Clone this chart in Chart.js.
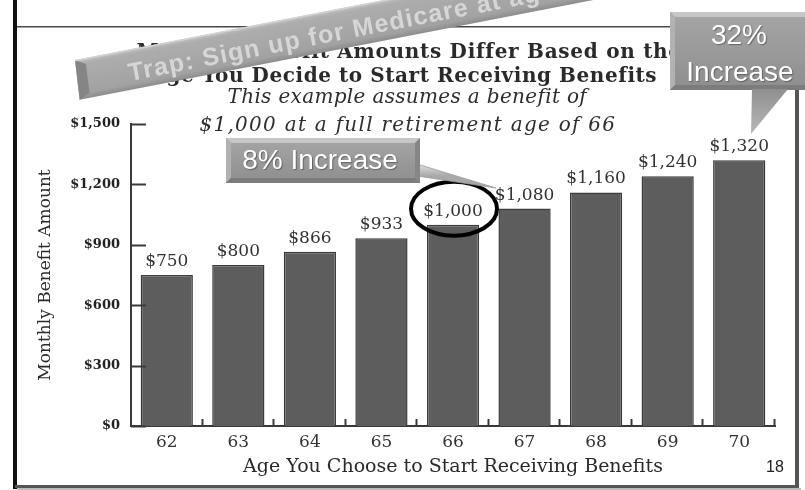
<!DOCTYPE html>
<html>
<head>
<meta charset="utf-8">
<script src="https://cdn.jsdelivr.net/npm/chart.js@4.4.1/dist/chart.umd.min.js"></script>
<style>
html,body{margin:0;padding:0;background:#fff;}
#wrap{position:relative;width:805px;height:490px;}
canvas{display:block;}
</style>
</head>
<body>
<div id="wrap"><canvas id="c" width="805" height="490"></canvas></div>
<script>
const ages = ['62', '63', '64', '65', '66', '67', '68', '69', '70'];
const benefits = [750, 800, 866, 933, 1000, 1080, 1160, 1240, 1320];
const benefitLabels = ['$750', '$800', '$866', '$933', '$1,000', '$1,080', '$1,160', '$1,240', '$1,320'];
const yTickValues = [0, 300, 600, 900, 1200, 1500];
const yTickLabels = ['$0', '$300', '$600', '$900', '$1,200', '$1,500'];
const titleLines = ['Monthly Benefit Amounts Differ Based on the', 'Age You Decide to Start Receiving Benefits'];
const subtitleLines = ['This example assumes a benefit of', '$1,000 at a full retirement age of 66'];
const xTitle = 'Age You Choose to Start Receiving Benefits';
const yTitle = 'Monthly Benefit Amount';
const bannerText = 'Trap: Sign up for Medicare at age 65';
const callout32 = ['32%', 'Increase'];
const callout8 = '8% Increase';
const slideNumber = '18';
const highlightAge = '66';

const SERIF = '"DejaVu Serif", "Liberation Serif", serif';
const SANS = '"Liberation Sans", Arial, sans-serif';

function fitText(ctx, text, cx, y, width, font, color) {
  ctx.save();
  ctx.font = font;
  ctx.letterSpacing = '0px';
  const w = ctx.measureText(text).width;
  const ls = (width - w) / text.length;
  ctx.letterSpacing = ls.toFixed(2) + 'px';
  ctx.fillStyle = color;
  ctx.textAlign = 'left';
  ctx.textBaseline = 'alphabetic';
  ctx.fillText(text, cx - width / 2, y);
  ctx.restore();
}

const backgroundPlugin = {
  id: 'slideBackground',
  beforeDraw(chart) {
    const ctx = chart.ctx;
    ctx.save();
    ctx.fillStyle = '#ffffff';
    ctx.fillRect(0, 0, chart.width, chart.height);
    // frame
    ctx.fillStyle = '#111';
    ctx.fillRect(13, 0, 4, 489);
    ctx.fillStyle = '#4a4a4a';
    ctx.fillRect(17, 26, 785, 1.5);
    ctx.fillStyle = '#555';
    ctx.fillRect(795, 27, 4, 461);
    ctx.fillRect(15, 485, 784, 3);
    ctx.fillStyle = '#bbb';
    ctx.fillRect(17, 488, 784, 2);
    // titles
    fitText(ctx, titleLines[0], 408, 58, 543, 'bold 20px ' + SERIF, '#2a2a2a');
    fitText(ctx, titleLines[1], 403, 82, 505, 'bold 20px ' + SERIF, '#2a2a2a');
    fitText(ctx, subtitleLines[0], 407, 103, 359, 'italic 20px ' + SERIF, '#2e2e2e');
    fitText(ctx, subtitleLines[1], 408, 131, 417, 'italic 20px ' + SERIF, '#2e2e2e');
    ctx.restore();
  }
};

const decorPlugin = {
  id: 'decor',
  afterDraw(chart) {
    const ctx = chart.ctx;
    const xs = chart.scales.x, ys = chart.scales.y;
    const area = chart.chartArea;
    ctx.save();
    // inward y ticks
    ctx.strokeStyle = '#3a3a3a';
    ctx.lineWidth = 2;
    yTickValues.forEach(v => {
      const y = Math.round(ys.getPixelForValue(v)) + 0.5;
      ctx.beginPath(); ctx.moveTo(area.left, y); ctx.lineTo(area.left + 15, y); ctx.stroke();
    });
    // x ticks between categories
    const step = (area.right - area.left) / ages.length;
    for (let i = 1; i <= ages.length; i++) {
      const x = Math.round(xs.getPixelForValue(i - 1) + step / 2) - 0.5;
      ctx.beginPath(); ctx.moveTo(x, area.bottom); ctx.lineTo(x, area.bottom - 7); ctx.stroke();
    }
    // data labels
    const meta = chart.getDatasetMeta(0);
    ctx.fillStyle = '#333';
    ctx.font = '17px ' + SERIF;
    ctx.textAlign = 'center';
    ctx.textBaseline = 'alphabetic';
    meta.data.forEach((bar, i) => {
      ctx.fillText(benefitLabels[i], bar.x, bar.y - 9);
    });
    // ellipse around highlighted bar label
    const hi = ages.indexOf(highlightAge);
    const hb = meta.data[hi];
    ctx.beginPath();
    ctx.ellipse(hb.x + 1, hb.y - 16, 43, 27, 0, 0, Math.PI * 2);
    ctx.lineWidth = 4;
    ctx.strokeStyle = '#000';
    ctx.stroke();

    // banner
    ctx.save();
    ctx.translate(75, 60);
    ctx.rotate(-11 * Math.PI / 180);
    const L = 600, H = 40;
    let g = ctx.createLinearGradient(0, 0, 0, H);
    g.addColorStop(0, '#c4c4c4');
    g.addColorStop(0.12, '#adadad');
    g.addColorStop(0.85, '#a2a2a2');
    g.addColorStop(1, '#8c8c8c');
    ctx.fillStyle = g;
    ctx.beginPath(); ctx.moveTo(0, 0); ctx.lineTo(L, 0); ctx.lineTo(L, H); ctx.lineTo(-3, H); ctx.closePath(); ctx.fill();
    ctx.fillStyle = '#858585';
    ctx.beginPath(); ctx.moveTo(0, 0); ctx.lineTo(10, 6); ctx.lineTo(8, H - 5); ctx.lineTo(-3, H); ctx.closePath(); ctx.fill();
    ctx.fillStyle = '#d2d2d2';
    ctx.fillRect(0, 0, L, 1.5);
    ctx.font = 'bold 25px ' + SANS;
    ctx.letterSpacing = '1.2px';
    ctx.fillStyle = '#d6d6d6';
    ctx.textAlign = 'left';
    ctx.fillText(bannerText, 50, 31);
    ctx.letterSpacing = '0px';
    ctx.restore();

    // 32% callout
    drawBox(ctx, 670, 12, 140, 78);
    ctx.beginPath();
    ctx.moveTo(752, 89); ctx.lineTo(788, 89); ctx.lineTo(751, 134); ctx.closePath();
    g = ctx.createLinearGradient(0, 89, 0, 134);
    g.addColorStop(0, '#8f8f8f'); g.addColorStop(1, '#b8b8b8');
    ctx.fillStyle = g; ctx.fill();
    ctx.fillStyle = '#ffffff';
    ctx.font = '28px ' + SANS;
    ctx.textAlign = 'center';
    ctx.textBaseline = 'middle';
    ctx.shadowColor = 'rgba(0,0,0,0.35)'; ctx.shadowOffsetX = 1; ctx.shadowOffsetY = 1; ctx.shadowBlur = 1;
    ctx.fillText(callout32[0], 739, 36);
    ctx.fillText(callout32[1], 740, 73);
    ctx.shadowColor = 'transparent';

    // 8% callout
    ctx.beginPath();
    ctx.moveTo(417, 164); ctx.lineTo(496, 188); ctx.lineTo(417, 176); ctx.closePath();
    g = ctx.createLinearGradient(417, 164, 417, 176);
    g.addColorStop(0, '#e2e2e2'); g.addColorStop(1, '#a8a8a8');
    ctx.fillStyle = g; ctx.fill();
    ctx.strokeStyle = '#9a9a9a'; ctx.lineWidth = 0.8; ctx.stroke();
    drawBox(ctx, 226, 138, 194, 45);
    ctx.fillStyle = '#ffffff';
    ctx.font = '28px ' + SANS;
    ctx.textAlign = 'center';
    ctx.textBaseline = 'middle';
    ctx.shadowColor = 'rgba(0,0,0,0.35)'; ctx.shadowOffsetX = 1; ctx.shadowOffsetY = 1; ctx.shadowBlur = 1;
    ctx.fillText(callout8, 320, 161);
    ctx.shadowColor = 'transparent';

    // slide number
    ctx.fillStyle = '#222';
    ctx.font = '16px ' + SANS;
    ctx.textAlign = 'center';
    ctx.textBaseline = 'middle';
    ctx.fillText(slideNumber, 775, 468);
    ctx.restore();
  }
};

function drawBox(ctx, x, y, w, h) {
  const g = ctx.createLinearGradient(0, y, 0, y + h);
  g.addColorStop(0, '#a6a6a6');
  g.addColorStop(1, '#8e8e8e');
  ctx.fillStyle = g;
  ctx.fillRect(x, y, w, h);
  const b = 5;
  ctx.fillStyle = '#c6c6c6';
  ctx.beginPath(); ctx.moveTo(x, y); ctx.lineTo(x + w, y); ctx.lineTo(x + w - b, y + b); ctx.lineTo(x + b, y + b); ctx.closePath(); ctx.fill();
  ctx.fillStyle = '#b2b2b2';
  ctx.beginPath(); ctx.moveTo(x, y); ctx.lineTo(x + b, y + b); ctx.lineTo(x + b, y + h - b); ctx.lineTo(x, y + h); ctx.closePath(); ctx.fill();
  ctx.fillStyle = '#7c7c7c';
  ctx.beginPath(); ctx.moveTo(x, y + h); ctx.lineTo(x + b, y + h - b); ctx.lineTo(x + w - b, y + h - b); ctx.lineTo(x + w, y + h); ctx.closePath(); ctx.fill();
  ctx.fillStyle = '#858585';
  ctx.beginPath(); ctx.moveTo(x + w, y); ctx.lineTo(x + w - b, y + b); ctx.lineTo(x + w - b, y + h - b); ctx.lineTo(x + w, y + h); ctx.closePath(); ctx.fill();
}

new Chart(document.getElementById('c'), {
  type: 'bar',
  data: {
    labels: ages,
    datasets: [{
      data: benefits,
      backgroundColor: '#5d5d5d',
      borderColor: '#3c3c3c',
      borderWidth: 1.5,
      barPercentage: 0.73,
      categoryPercentage: 1.0
    }]
  },
  options: {
    responsive: false,
    animation: false,
    devicePixelRatio: 1,
    layout: { padding: { left: 0, right: 30, top: 124, bottom: 0 } },
    plugins: { legend: { display: false }, tooltip: { enabled: false }, title: { display: false } },
    scales: {
      x: {
        grid: { display: false, drawTicks: false },
        border: { display: true, color: '#3a3a3a', width: 2 },
        ticks: { font: { family: SERIF, size: 17 }, color: '#333', padding: 6 },
        title: { display: true, text: xTitle, font: { family: SERIF, size: 19 }, color: '#2a2a2a', padding: { top: 0, bottom: 12 } },
        afterFit(s) { s.height = 64; }
      },
      y: {
        min: 0, max: 1500,
        afterBuildTicks(s) { s.ticks = yTickValues.map(v => ({ value: v })); },
        ticks: {
          callback: (v) => yTickLabels[yTickValues.indexOf(v)],
          font: { family: SERIF, size: 13, weight: 'bold' }, color: '#222', padding: 11
        },
        grid: { display: false, drawTicks: false },
        border: { display: true, color: '#3a3a3a', width: 2 },
        title: { display: true, text: yTitle, font: { family: SERIF, size: 17 }, color: '#2a2a2a', padding: { top: 35, bottom: 0 } },
        afterFit(s) { s.width = 131; }
      }
    }
  },
  plugins: [backgroundPlugin, decorPlugin]
});
</script>
</body>
</html>
